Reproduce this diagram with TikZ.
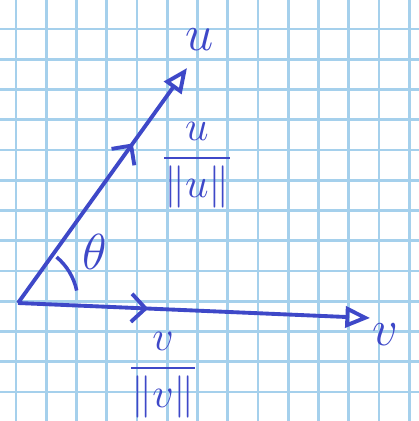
\documentclass[tikz,border=0pt]{standalone}
\usepackage{amsmath}
\usetikzlibrary{arrows.meta,decorations.markings}
\definecolor{pen}{RGB}{62,72,200}
\definecolor{gridblue}{RGB}{165,208,236}
\tikzset{
 vec/.style={pen,line width=1.1pt,-{Triangle[open,length=7pt,width=6pt]},
   postaction={decorate},decoration={markings,
   mark=at position #1 with {\arrow[pen,line width=1.1pt]{Straight Barb[length=4pt,width=8pt]}}}},
 lbl/.style={pen,font=\Large},
 frac/.style={pen,font=\large}
}
\begin{document}
\begin{tikzpicture}[scale=1.0]
 \useasboundingbox (0,0) rectangle (4.19,-4.21);
 \fill[white] (0,0) rectangle (4.19,-4.21);
 % squared paper
 \foreach \i in {0,...,13} {
   \draw[gridblue,line width=0.8pt] ({0.16+0.3025*\i},0) -- ({0.16+0.3025*\i},-4.21);
   \draw[gridblue,line width=0.8pt] (0,{-0.29-0.3025*\i}) -- (4.19,{-0.29-0.3025*\i});
 }
 \coordinate (O) at (0.18,-3.03);
 \coordinate (U) at (1.87,-0.68);
 \coordinate (V) at (3.70,-3.18);
 \draw[vec=0.68] (O) -- (U);
 \draw[vec=0.37] (O) -- (V);
 \draw[pen,line width=1pt] (O) ++(12:0.6) arc (12:50:0.6);
 \node[lbl] (ulab) at (2.00,-0.40) {$u$};
 \node[frac] (uhat) at (1.97,-1.65) {$\dfrac{u}{\|u\|}$};
 \node[lbl] (theta) at (0.95,-2.52) {$\theta$};
 \node[frac] (vhat) at (1.63,-3.75) {$\dfrac{v}{\|v\|}$};
 \node[lbl] (vlab) at (3.85,-3.35) {$v$};
\end{tikzpicture}
\end{document}
